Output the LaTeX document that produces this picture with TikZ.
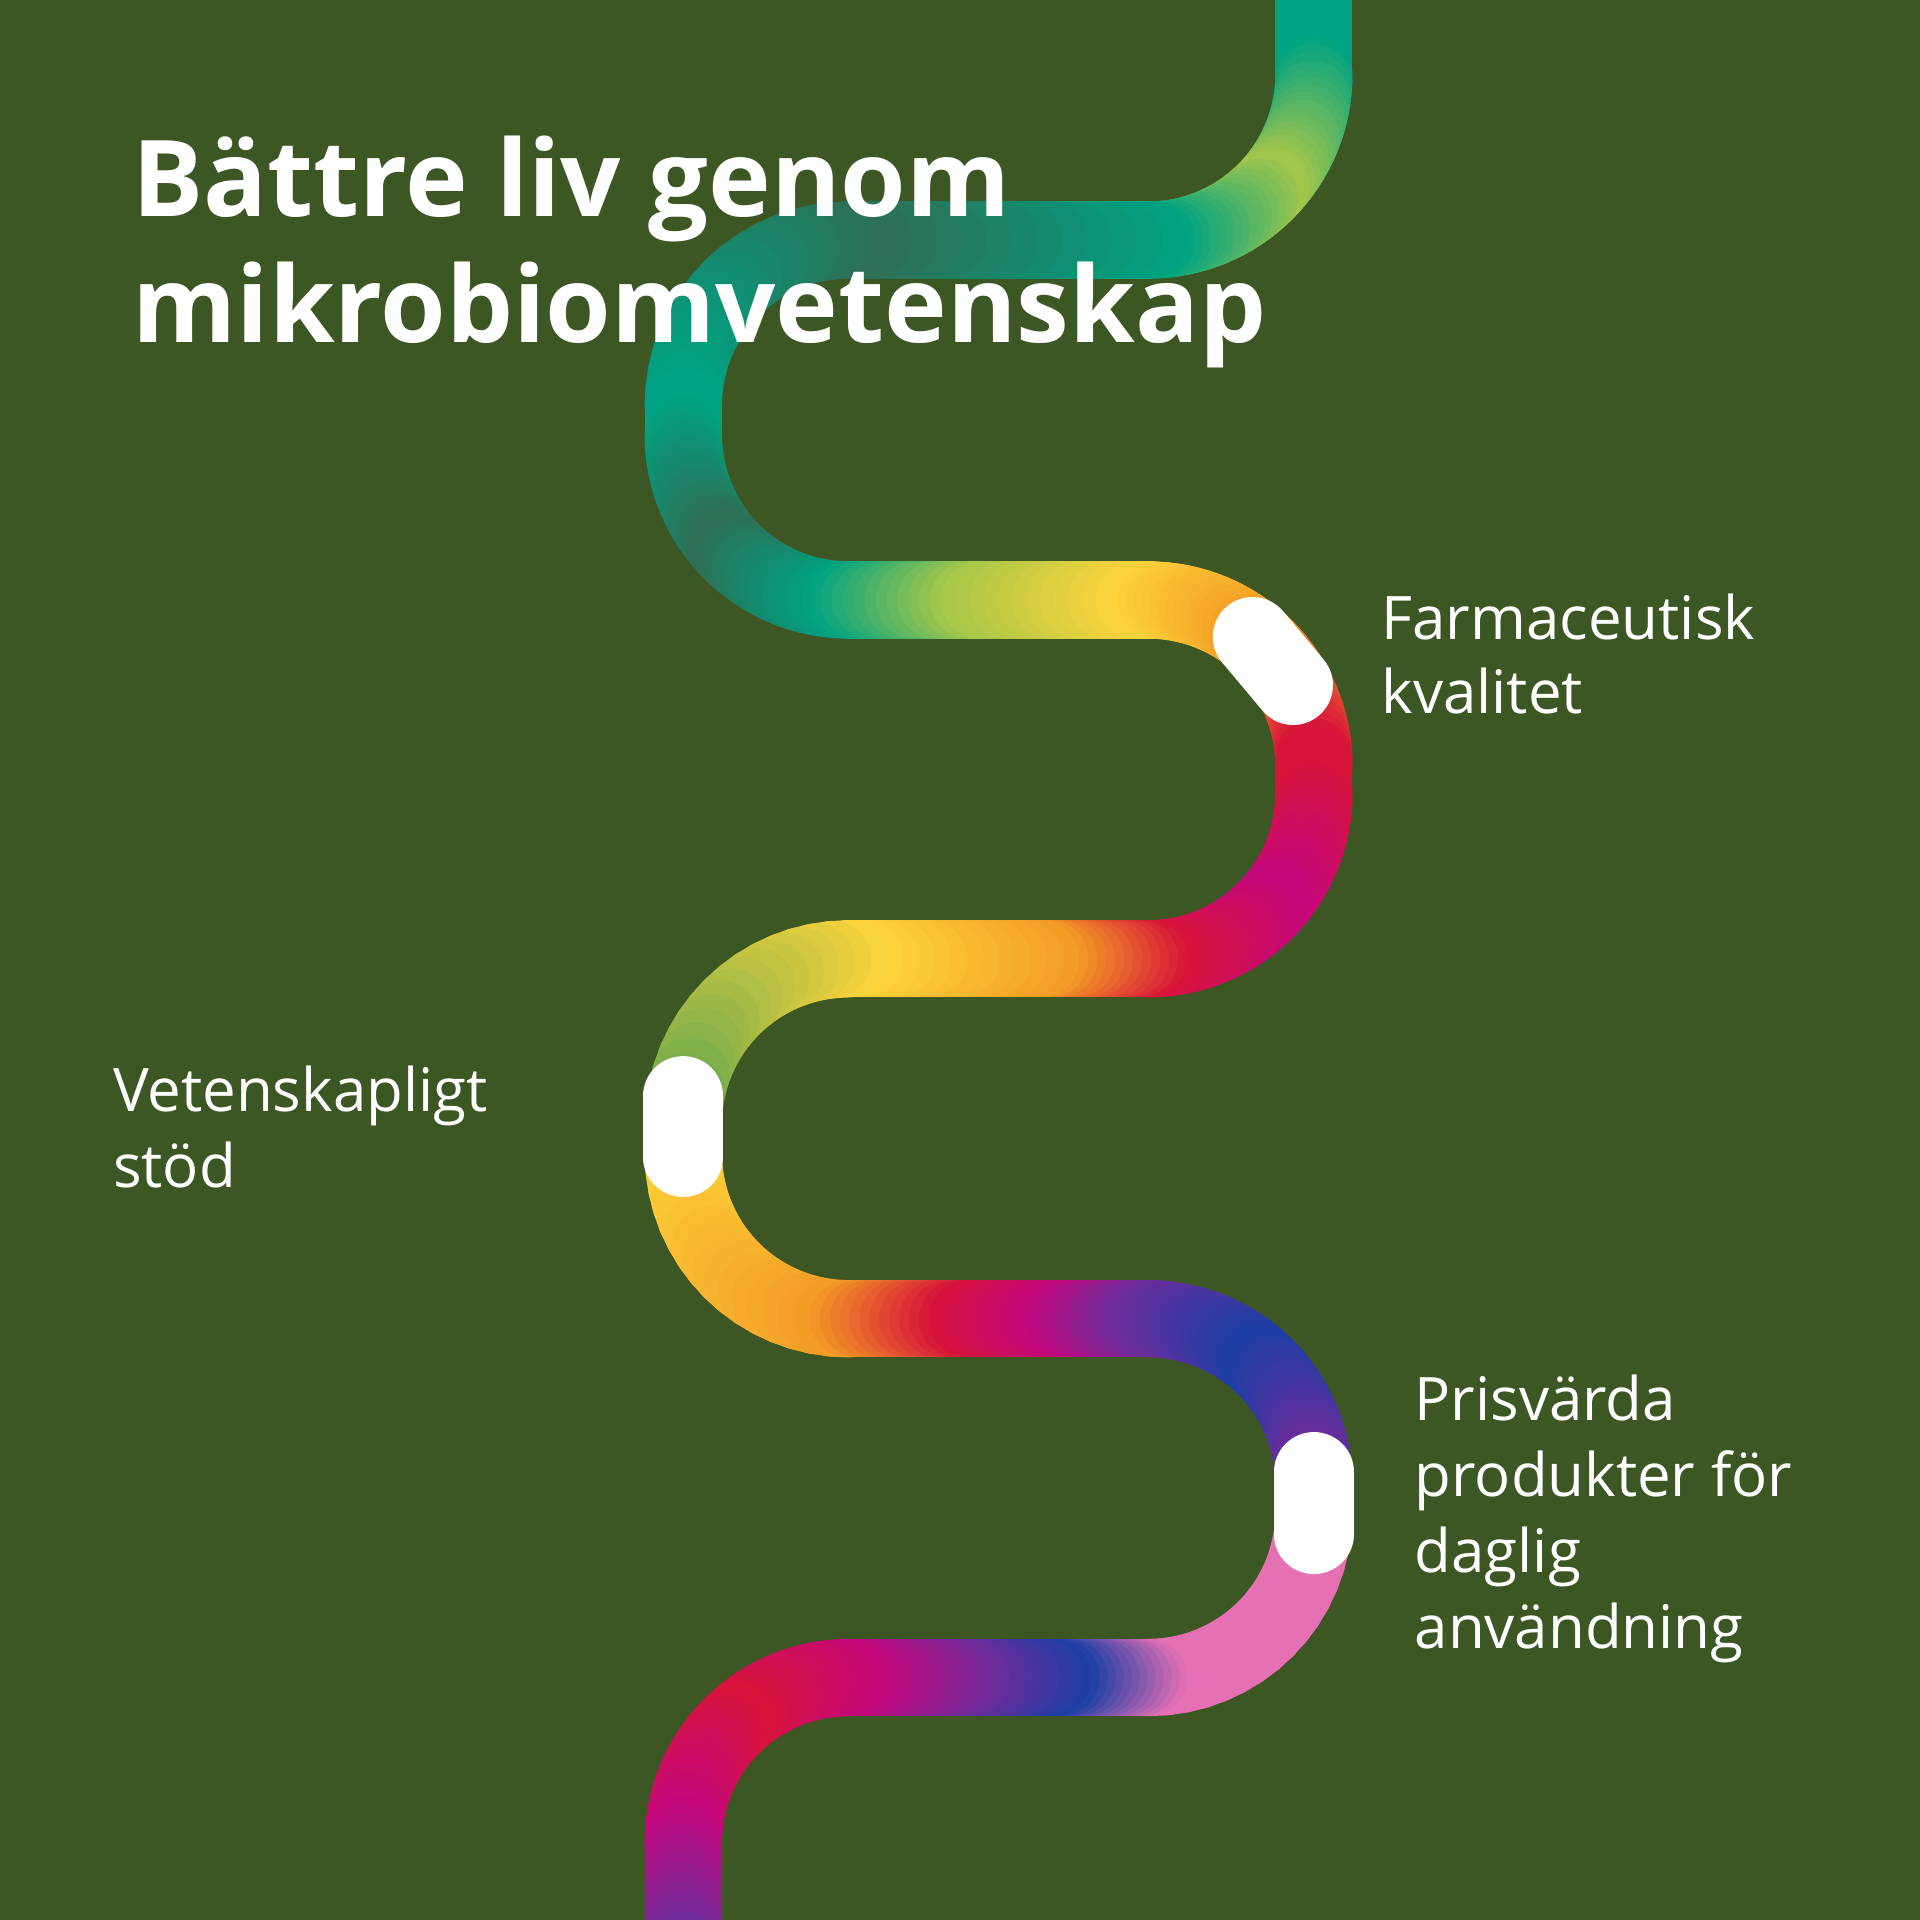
\documentclass[tikz,border=0pt]{standalone}
\usepackage{fontspec}
\setmainfont{Open Sans}
\definecolor{bg}{HTML}{3D5724}
\definecolor{teal}{HTML}{00A383}
\definecolor{lime}{HTML}{A5C64A}
\definecolor{dteal}{HTML}{2E6E55}
\definecolor{yel}{HTML}{FDD43A}
\definecolor{ora}{HTML}{F39A25}
\definecolor{red}{HTML}{D7143A}
\definecolor{mag}{HTML}{C4077E}
\definecolor{pur}{HTML}{6E2B9A}
\definecolor{blu}{HTML}{1B3FA6}
\definecolor{pnk}{HTML}{E570B4}
\definecolor{grn}{HTML}{6BAA4F}
\tikzset{pipe/.style={line width=38.6pt,line cap=round},
 marker/.style={line width=39.8pt,line cap=round,draw=white},
 title/.style={anchor=base west,text=white,font=\fontsize{53}{60}\selectfont\bfseries,inner sep=0},
 lab/.style={anchor=base west,text=white,font=\fontsize{30}{36}\selectfont,inner sep=0}}
\newcommand\arcp[6]{%
\foreach \k in {0,...,15}{
 \pgfmathsetmacro\ta{#3+(#4-#3)*\k/16}
 \pgfmathsetmacro\tb{#3+(#4-#3)*(\k+1)/16}
 \pgfmathsetmacro\mx{100-100*(\k+0.5)/16}
 \draw[pipe,draw=#5!\mx!#6] ({#1+135*cos(\ta)},{#2+135*sin(\ta)}) -- ({#1+135*cos(\tb)},{#2+135*sin(\tb)});
}}
\newcommand\linep[6]{%
\foreach \k in {0,...,11}{
 \pgfmathsetmacro\xa{#1+(#3-#1)*\k/12}
 \pgfmathsetmacro\ya{#2+(#4-#2)*\k/12}
 \pgfmathsetmacro\xb{#1+(#3-#1)*(\k+1)/12}
 \pgfmathsetmacro\yb{#2+(#4-#2)*(\k+1)/12}
 \pgfmathsetmacro\mx{100-100*(\k+0.5)/12}
 \draw[pipe,draw=#5!\mx!#6] (\xa,\ya) -- (\xb,\yb);
}}
\begin{document}
\begin{tikzpicture}[x=0.6122pt,y=-0.6122pt]
\fill[bg] (0,0) rectangle (1568,1568);
\useasboundingbox (0,0) rectangle (1568,1568);
\begin{scope}
\clip (0,0) rectangle (1568,1568);
\linep{1073}{-40}{1073}{61}{teal}{teal}
\arcp{938}{61}{0}{45}{teal}{lime}
\arcp{938}{61}{45}{90}{lime}{teal}
\linep{938}{196}{693}{196}{teal}{dteal}
\arcp{693}{331}{270}{180}{dteal}{teal}
\linep{558}{331}{558}{355}{teal}{teal}
\arcp{693}{355}{180}{135}{teal}{dteal}
\arcp{693}{355}{135}{90}{dteal}{teal}
\linep{693}{490}{800}{490}{teal}{lime}
\linep{800}{490}{938}{490}{lime}{yel}
\arcp{938}{625}{270}{315}{yel}{ora}
\arcp{938}{625}{315}{360}{ora}{red}
\linep{1073}{625}{1073}{648}{red}{red}
\arcp{938}{648}{0}{45}{red}{mag}
\arcp{938}{648}{45}{90}{mag}{red}
\linep{938}{783}{850}{783}{red}{ora}
\linep{850}{783}{693}{783}{ora}{yel}
\arcp{693}{918}{270}{180}{yel}{grn}
\linep{558}{918}{558}{942}{grn}{yel}
\arcp{693}{942}{180}{90}{yel}{ora}
\linep{693}{1077}{790}{1077}{ora}{red}
\linep{790}{1077}{870}{1077}{red}{mag}
\linep{870}{1077}{938}{1077}{mag}{pur}
\arcp{938}{1212}{270}{315}{pur}{blu}
\arcp{938}{1212}{315}{360}{blu}{pur}
\linep{1073}{1212}{1073}{1235}{pur}{pnk}
\arcp{938}{1235}{0}{90}{pnk}{pnk}
\linep{938}{1370}{860}{1370}{pnk}{blu}
\linep{860}{1370}{780}{1370}{blu}{pur}
\linep{780}{1370}{693}{1370}{pur}{mag}
\arcp{693}{1505}{270}{225}{mag}{red}
\arcp{693}{1505}{225}{180}{red}{mag}
\linep{558}{1505}{558}{1600}{mag}{pur}
\end{scope}
\coordinate (m1a) at ({938+135*cos(309)},{625+135*sin(309)});
\coordinate (m1b) at ({938+135*cos(331)},{625+135*sin(331)});
\draw[marker] (m1a) -- (m1b);
\draw[marker] (558,895) -- (558,945);
\draw[marker] (1073,1202) -- (1073,1253);
\node[title] (t1) at (108,177) {Bättre liv genom};
\node[title] (t2) at (108,280) {mikrobiomvetenskap};
\node[lab] (a1) at (1128,522) {Farmaceutisk};
\node[lab] (a2) at (1128,583) {kvalitet};
\node[lab] (b1) at (92,908) {Vetenskapligt};
\node[lab] (b2) at (92,970) {stöd};
\node[lab] (c1) at (1155,1160) {Prisvärda};
\node[lab] (c2) at (1155,1222) {produkter för};
\node[lab] (c3) at (1155,1284) {daglig};
\node[lab] (c4) at (1155,1346) {användning};
\end{tikzpicture}
\end{document}
